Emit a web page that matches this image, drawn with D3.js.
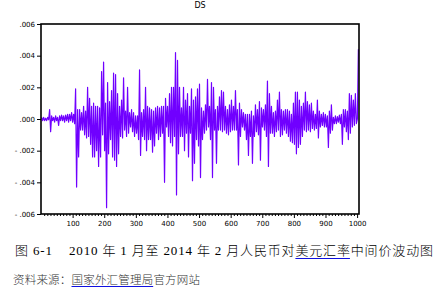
<!DOCTYPE html>
<html>
<head>
<meta charset="utf-8">
<script src="https://cdn.jsdelivr.net/npm/d3@7"></script>
<style>
  html, body { margin: 0; padding: 0; background: #fff; }
  svg { display: block; }
  text { white-space: pre; }
</style>
</head>
<body>
<svg id="chart" width="441" height="296"></svg>
<script>
/* DS — daily change of the RMB/USD central parity, EViews-style line plot */

// ── Data (roughly one high/low pair per pixel column) ──
const title = 'DS';
const ds = [
  .0001,-.0001,.0001,-.0001,.00005,-.0001,.0001,-.00005,.0006,-.0008,.0002,-.0001,.0001,-.0002,.0002,-.0001,.0001,-.0004,.0002,-.0001,
  .00025,-.0001,.0002,-.0002,.00025,-.0001,.0003,-.0002,.0003,-.0001,.0004,-.0002,.0003,-.0003,.0019,-.0043,.0006,-.0024,.0006,-.0007,
  .0004,-.0007,.0008,-.001,.0005,-.0012,.002,-.0011,.0013,-.0016,.0008,-.0024,.001,-.0024,.0008,-.002,.0008,-.003,.0007,-.0024,
  .003,-.001,.0036,-.002,.001,-.0056,.0023,-.0022,.0011,-.0013,.0018,-.0024,.0029,-.0026,.0028,-.003,.0016,-.0022,.0008,-.0011,
  .0012,-.0012,.0026,-.0007,.0005,-.0011,.002,-.0009,.0004,-.0005,.0006,-.0008,.0004,-.0011,.0002,-.0009,.0002,-.0013,.0031,-.0023,
  .0004,-.0011,.0006,-.0013,.002,-.002,.0008,-.0013,.0007,-.0013,.0006,-.0021,.0005,-.0017,.0007,-.0009,.0008,-.0013,.0007,-.0011,
  .0008,-.0009,.0008,-.004,.0013,-.0005,.0008,-.0011,.0016,-.0015,.002,-.0017,.002,-.0011,.0042,-.0048,.0037,-.0022,.002,-.0011,
  .0007,-.0011,.002,-.002,.0012,-.0009,.0016,-.0024,.0008,-.0009,.0019,-.0039,.0012,-.0028,.0014,-.0013,.0019,-.0017,.0022,-.0037,
  .0007,-.0013,.0005,-.0009,.0009,-.0007,.0025,-.0005,.0008,-.0013,.0023,-.0037,.002,-.0007,.0006,-.0028,.0008,-.0007,.0014,-.0007,
  .0018,-.0008,.0017,-.0007,.0008,-.0009,.0006,-.001,.0009,-.0008,.0012,-.0007,.0008,-.0007,.0018,-.0007,.0006,-.0029,.001,-.0011,
  .0006,-.0005,.0004,-.0007,.0003,-.0013,.0003,-.0023,.0003,-.0011,.0005,-.0028,.0002,-.0011,.0009,-.0008,.0006,-.001,.0011,-.0026,
  .0007,-.0005,.0006,-.0007,.0009,-.0011,.0024,-.003,.0016,-.0009,.0008,-.0009,.0004,-.0011,.0005,-.0008,.0012,-.0007,.0017,-.0011,
  .0006,-.001,.0005,-.0007,.0006,-.0009,.0006,-.0011,.0005,-.0014,.0003,-.0015,.001,-.0016,.0017,-.0022,.0017,-.0018,.0012,-.0016,
  .0008,-.0011,.001,-.0007,.0017,-.0008,.0011,-.0007,.0009,-.0008,.001,-.0006,.0005,-.0007,.0003,-.0006,.0012,-.0012,.0005,-.0005,
  .0003,-.0004,.0004,-.0005,.0003,-.0005,.0002,-.0018,.0005,-.0009,.0009,-.0007,.0001,-.0003,.0002,-.0003,.00015,-.0002,.00025,-.0003,
  .0003,-.0016,.0006,-.0005,.0006,-.0008,.0005,-.0013,.0016,-.0009,.0015,-.0005,.0012,-.0004,.0016,-.0003,0,.0044
];
const obsFirst = 2;
const obsLast  = 1004;
const obsMax   = 1006;

const xTicks      = [100, 200, 300, 400, 500, 600, 700, 800, 900, 1000];
const yTicks      = [-.006, -.004, -.002, 0, .002, .004, .006];
const yTickLabels = ['- .006', '- .004', '- .002', '.000', '.002', '.004', '.006'];

const captionParts = [
  { t: '图 6-1    2010 年 1 月至 2014 年 2 月人民币对', u: false },
  { t: '美元汇率', u: true },
  { t: '中间价波动图', u: false },
];
const sourceParts = [
  { t: '资料来源：', u: false },
  { t: '国家外汇管理局', u: true },
  { t: '官方网站', u: false },
];

// ── Layout ──────────────────────────────────────────
const plot = { left: 41, right: 359, top: 24, bottom: 214 };
const LINE_COLOR = '#7000ff';
const AXIS_FONT  = "'DejaVu Sans', sans-serif";

const svg = d3.select('#chart');

const x = d3.scaleLinear().domain([0, obsMax]).range([plot.left, plot.right]);
const y = d3.scaleLinear().domain([-.006, .006]).range([plot.bottom, plot.top]);

const step = (obsLast - obsFirst) / (ds.length - 1);
const points = ds.map((v, i) => ({ obs: obsFirst + i * step, v }));

// ── Series ──────────────────────────────────────────
svg.append('path')
  .datum(points)
  .attr('fill', 'none')
  .attr('stroke', LINE_COLOR)
  .attr('stroke-width', 1.2)
  .attr('stroke-linejoin', 'round')
  .attr('d', d3.line().x(d => x(d.obs)).y(d => y(d.v)));

// ── Axes ────────────────────────────────────────────
svg.append('g')
  .attr('transform', `translate(${plot.left},0)`)
  .call(d3.axisLeft(y).tickValues(yTicks)
    .tickFormat((d, i) => yTickLabels[i]).tickSize(4).tickPadding(2));

const xMinor = d3.range(10, obsMax, 10).filter(v => v % 100 !== 0);
svg.append('g')
  .attr('transform', `translate(0,${plot.bottom})`)
  .call(d3.axisBottom(x).tickValues(xMinor).tickFormat('').tickSize(2));

svg.append('g')
  .attr('transform', `translate(0,${plot.bottom})`)
  .call(d3.axisBottom(x).tickValues(xTicks).tickFormat(d3.format('d'))
    .tickSize(4).tickPadding(3));

svg.selectAll('.domain').remove();
svg.selectAll('.tick line').attr('stroke', '#000').attr('stroke-width', 1);
svg.selectAll('.tick text')
  .attr('fill', '#000')
  .attr('font-family', AXIS_FONT)
  .attr('font-size', 7);

// frame
svg.append('rect')
  .attr('x', plot.left).attr('y', plot.top)
  .attr('width', plot.right - plot.left)
  .attr('height', plot.bottom - plot.top)
  .attr('fill', 'none')
  .attr('stroke', '#000')
  .attr('stroke-width', 1.6);

// title
svg.append('text')
  .attr('x', (plot.left + plot.right) / 2)
  .attr('y', 8)
  .attr('text-anchor', 'middle')
  .attr('font-family', AXIS_FONT)
  .attr('font-size', 8)
  .text(title);

// ── Caption and source, with blue underlines ────────
function captionLine(parts, opts) {
  const t = svg.append('text')
    .attr('x', opts.x).attr('y', opts.y)
    .attr('font-family', "'Liberation Serif', 'Noto Sans CJK SC', serif")
    .attr('font-weight', 300)
    .attr('font-size', opts.size)
    .attr('fill', opts.color);
  if (opts.width) t.attr('textLength', opts.width).attr('lengthAdjust', 'spacing');

  const spans = parts.map(p => ({ p, el: t.append('tspan').text(p.t).node() }));
  spans.filter(s => s.p.u).forEach(s => {
    const n  = s.p.t.length;
    const x0 = s.el.getStartPositionOfChar(0).x;
    const x1 = s.el.getEndPositionOfChar(n - 1).x;
    svg.append('line')
      .attr('x1', x0).attr('x2', x1)
      .attr('y1', opts.uy).attr('y2', opts.uy)
      .attr('stroke', '#1010e0')
      .attr('stroke-width', 1);
  });
}

captionLine(captionParts, { x: 15, y: 255, size: 13, color: '#000', width: 418, uy: 258.5 });
captionLine(sourceParts,  { x: 13, y: 284, size: 11.5, color: '#333', width: 187, uy: 286.5 });
</script>
</body>
</html>
